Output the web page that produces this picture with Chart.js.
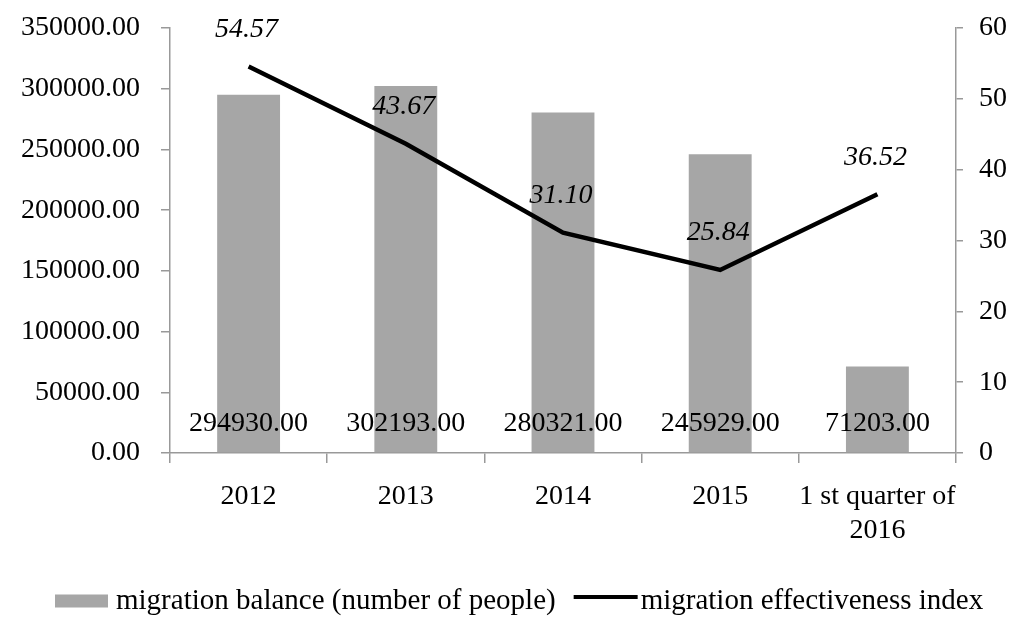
<!DOCTYPE html>
<html>
<head>
<meta charset="utf-8">
<script src="https://cdn.jsdelivr.net/npm/chart.js@4.4.1/dist/chart.umd.min.js"></script>
<style>
  html,body{margin:0;padding:0;background:#fff;}
  #wrap{width:1011px;height:617px;position:relative;}
</style>
</head>
<body>
<div id="wrap"><canvas id="c" width="1011" height="617"></canvas></div>
<script>
const categories = ['2012', '2013', '2014', '2015', ['1 st quarter of', '2016']];
const migrationBalance = [294930, 302193, 280321, 245929, 71203];
const effectivenessIndex = [54.57, 43.67, 31.10, 25.84, 36.52];
const leftTicks = [0, 50000, 100000, 150000, 200000, 250000, 300000, 350000];
const rightTicks = [0, 10, 20, 30, 40, 50, 60];
const seriesNames = ['migration balance (number of people)', 'migration effectiveness index'];

const FONT = 'Liberation Serif';
const AXIS = '#999999';
const BAR_COLOR = '#a6a6a6';

const labelPlugin = {
  id: 'valueLabels',
  afterDatasetsDraw(chart) {
    const ctx = chart.ctx;
    ctx.save();
    ctx.fillStyle = '#000';
    ctx.textAlign = 'center';
    ctx.textBaseline = 'middle';
    const barMeta = chart.getDatasetMeta(0);
    ctx.font = '28px "' + FONT + '"';
    const yScale = chart.scales.y;
    barMeta.data.forEach((el, i) => {
      ctx.fillText(migrationBalance[i].toFixed(2), el.x, yScale.bottom - 29);
    });
    const lineMeta = chart.getDatasetMeta(1);
    ctx.font = 'italic 28px "' + FONT + '"';
    lineMeta.data.forEach((el, i) => {
      ctx.fillText(effectivenessIndex[i].toFixed(2), el.x - 2, el.y - 37);
    });
    ctx.restore();
  }
};

const legendPlugin = {
  id: 'customLegend',
  afterDraw(chart) {
    const ctx = chart.ctx;
    ctx.save();
    ctx.font = '29px "' + FONT + '"';
    ctx.fillStyle = '#000';
    ctx.textBaseline = 'middle';
    ctx.textAlign = 'left';
    const cy = 601;
    let x = 55;
    ctx.fillStyle = BAR_COLOR;
    ctx.fillRect(x, cy - 6.5, 53, 13);
    x += 53 + 8;
    ctx.fillStyle = '#000';
    ctx.fillText(seriesNames[0], x, cy);
    x += ctx.measureText(seriesNames[0]).width + 18;
    ctx.strokeStyle = '#000';
    ctx.lineWidth = 4;
    ctx.beginPath();
    ctx.moveTo(x, cy - 4);
    ctx.lineTo(x + 64, cy - 4);
    ctx.stroke();
    x += 64 + 3;
    ctx.fillText(seriesNames[1], x, cy);
    ctx.restore();
  }
};

new Chart(document.getElementById('c'), {
  data: {
    labels: categories,
    datasets: [
      {
        type: 'bar',
        label: seriesNames[0],
        data: migrationBalance,
        backgroundColor: BAR_COLOR,
        borderWidth: 0,
        barPercentage: 0.4,
        categoryPercentage: 1.0,
        yAxisID: 'y',
        order: 2
      },
      {
        type: 'line',
        label: seriesNames[1],
        data: effectivenessIndex,
        borderColor: '#000',
        backgroundColor: '#000',
        borderWidth: 4.5,
        pointRadius: 0,
        tension: 0,
        yAxisID: 'y1',
        order: 1
      }
    ]
  },
  options: {
    responsive: false,
    animation: false,
    devicePixelRatio: 1,
    layout: { padding: { top: 28, left: 0, right: 0, bottom: 33 } },
    plugins: {
      tooltip: { enabled: false },
      legend: { display: false }
    },
    scales: {
      x: {
        type: 'category',
        offset: true,
        grid: { offset: true, drawOnChartArea: false, drawTicks: true, tickLength: 10, color: AXIS, lineWidth: 1.5 },
        border: { color: AXIS, width: 1.5 },
        ticks: { color: '#000', font: { family: FONT, size: 28 }, padding: 17, maxRotation: 0, autoSkip: false },
        afterFit(s) { s.height = 131; s.paddingLeft = 0; s.paddingRight = 0; }
      },
      y: {
        position: 'left',
        min: 0, max: 350000,
        afterBuildTicks(s) { s.ticks = leftTicks.map(v => ({ value: v })); },
        grid: { drawOnChartArea: false, drawTicks: true, tickLength: 9, color: AXIS, lineWidth: 1.5 },
        border: { color: AXIS, width: 1.5 },
        ticks: { color: '#000', font: { family: FONT, size: 28 }, padding: 21, callback: v => Number(v).toFixed(2) },
        afterFit(s) { s.width = 170; s.paddingTop = 0; s.paddingBottom = 0; }
      },
      y1: {
        position: 'right',
        min: 0, max: 60,
        afterBuildTicks(s) { s.ticks = rightTicks.map(v => ({ value: v })); },
        grid: { drawOnChartArea: false, drawTicks: true, tickLength: 7, color: AXIS, lineWidth: 1.5 },
        border: { color: AXIS, width: 1.5 },
        ticks: { color: '#000', font: { family: FONT, size: 28 }, padding: 16 },
        afterFit(s) { s.width = 55; s.paddingTop = 0; s.paddingBottom = 0; }
      }
    }
  },
  plugins: [labelPlugin, legendPlugin]
});
</script>
</body>
</html>
